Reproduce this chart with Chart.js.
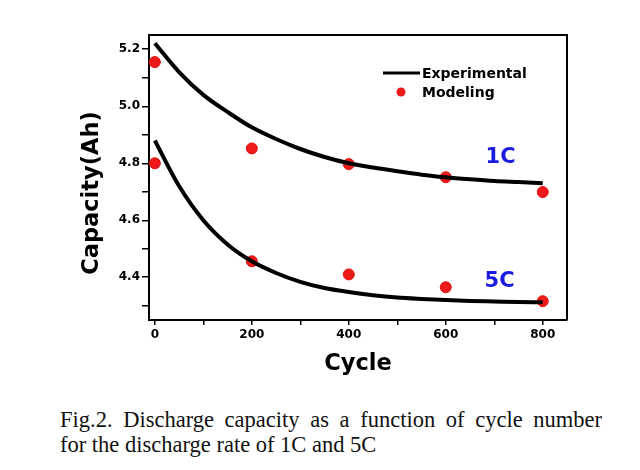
<!DOCTYPE html>
<html>
<head>
<meta charset="utf-8">
<script src="https://cdn.jsdelivr.net/npm/chart.js@4/dist/chart.umd.min.js"></script>
<style>
  body { margin: 0; background: #fff; width: 640px; height: 470px; overflow: hidden; position: relative; }
  #wrap { position: absolute; left: 0; top: 0; width: 640px; height: 395px; }
  .cap {
    position: absolute; left: 60px; width: 542px; white-space: nowrap;
    font-family: "Liberation Serif", "Times New Roman", serif; font-size: 22.5px; line-height: 25.5px;
    color: #111;
  }
  #cap1 { top: 407px; text-align: justify; text-align-last: justify; white-space: normal; }
  #cap2 { top: 432px; }
</style>
</head>
<body>
<div id="wrap"><canvas id="chart" width="640" height="395"></canvas></div>
<div class="cap" id="cap1">Fig.2. Discharge capacity as a function of cycle number</div>
<div class="cap" id="cap2">for the discharge rate of 1C and 5C</div>
<script>
const curveCycles = [0, 50, 100, 150, 200, 250, 300, 350, 400, 450, 500, 550, 600, 650, 700, 750, 800];
const exp1C = [5.221, 5.12, 5.04, 4.98, 4.926, 4.885, 4.85, 4.822, 4.80, 4.785, 4.772, 4.76, 4.751, 4.744, 4.738, 4.734, 4.73];
const exp5C = [4.88, 4.72, 4.60, 4.515, 4.456, 4.415, 4.384, 4.362, 4.348, 4.337, 4.329, 4.324, 4.32, 4.317, 4.315, 4.313, 4.312];

// モデル値 (赤い点)
const modelCycles = [0, 200, 400, 600, 800];
const model1C = [5.155, 4.852, 4.797, 4.751, 4.699];
const model5C = [4.80, 4.456, 4.41, 4.365, 4.316];

// 目盛り (ラベル付きと補助目盛り)
const xTickValues = [0, 100, 200, 300, 400, 500, 600, 700, 800];
const xTickLabels = ['0', '', '200', '', '400', '', '600', '', '800'];
const yTickValues = [4.3, 4.4, 4.5, 4.6, 4.7, 4.8, 4.9, 5.0, 5.1, 5.2];
const yTickLabels = ['', '4.4', '', '4.6', '', '4.8', '', '5.0', '', '5.2'];

// 系列ラベル
const rateLabels = ['1C', '5C'];
const rateLabelX = [713, 711];
const rateLabelY = [4.821, 4.385];

const heavyFont = '"DejaVu Sans", sans-serif';
const pts = (xs, ys) => xs.map((x, i) => ({ x: x, y: ys[i] }));

// 枠・軸タイトル・凡例・ラベル描画
const decorPlugin = {
    id: 'decor',
    afterDraw(chart) {
        const { ctx, chartArea: a, scales } = chart;
        ctx.save();
        ctx.strokeStyle = '#000';
        ctx.lineWidth = 2;
        ctx.beginPath();
        ctx.moveTo(a.left, a.top);
        ctx.lineTo(a.right, a.top);
        ctx.lineTo(a.right, a.bottom);
        ctx.stroke();

        // 軸タイトル
        ctx.fillStyle = '#000';
        ctx.font = 'bold 22.5px ' + heavyFont;
        ctx.textAlign = 'center';
        ctx.textBaseline = 'middle';
        ctx.fillText('Cycle', (a.left + a.right) / 2, 364);
        ctx.save();
        ctx.translate(92, 193);
        ctx.rotate(-Math.PI / 2);
        ctx.fillText('Capacity(Ah)', 0, 0);
        ctx.restore();

        // 凡例
        ctx.lineWidth = 3;
        ctx.beginPath();
        ctx.moveTo(383, 73);
        ctx.lineTo(420, 73);
        ctx.stroke();
        ctx.fillStyle = '#ee1a1a';
        ctx.beginPath();
        ctx.arc(401, 92, 4.5, 0, Math.PI * 2);
        ctx.fill();
        ctx.fillStyle = '#000';
        ctx.font = 'bold 14px ' + heavyFont;
        ctx.textAlign = 'left';
        ctx.fillText('Experimental', 422, 74);
        ctx.fillText('Modeling', 422, 93);

        // 1C / 5C
        ctx.fillStyle = '#1a1ae0';
        ctx.font = 'bold 21px ' + heavyFont;
        ctx.textAlign = 'center';
        rateLabels.forEach((t, i) => {
            ctx.fillText(t, scales.x.getPixelForValue(rateLabelX[i]), scales.y.getPixelForValue(rateLabelY[i]));
        });
        ctx.restore();
    }
};

const lineStyle = {
    showLine: true,
    borderColor: '#000',
    borderWidth: 4,
    pointRadius: 0,
    cubicInterpolationMode: 'monotone',
    fill: false
};
const dotStyle = {
    showLine: false,
    pointRadius: 5.5,
    pointBackgroundColor: '#ee1a1a',
    pointBorderColor: '#e01010',
    pointBorderWidth: 1
};

new Chart(document.getElementById('chart'), {
    type: 'scatter',
    data: {
        datasets: [
            { label: 'Experimental 1C', data: pts(curveCycles, exp1C), ...lineStyle },
            { label: 'Experimental 5C', data: pts(curveCycles, exp5C), ...lineStyle },
            { label: 'Modeling 1C', data: pts(modelCycles, model1C), ...dotStyle },
            { label: 'Modeling 5C', data: pts(modelCycles, model5C), ...dotStyle }
        ]
    },
    options: {
        responsive: false,
        animation: false,
        layout: { padding: { left: 0, right: 73, top: 35, bottom: 0 } },
        plugins: { legend: { display: false }, tooltip: { enabled: false } },
        scales: {
            x: {
                type: 'linear',
                min: -12,
                max: 850,
                afterFit: (s) => { s.height = 75; },
                afterBuildTicks: (s) => { s.ticks = xTickValues.map(v => ({ value: v })); },
                border: { color: '#000', width: 2 },
                grid: { drawOnChartArea: false, color: '#000', tickLength: 5, lineWidth: 1.5 },
                ticks: {
                    padding: 3,
                    color: '#000',
                    autoSkip: false,
                    maxRotation: 0,
                    font: { family: heavyFont, size: 12, weight: 'bold' },
                    callback: (v, i) => xTickLabels[i]
                }
            },
            y: {
                type: 'linear',
                min: 4.25,
                max: 5.25,
                afterFit: (s) => { s.width = 149; },
                afterBuildTicks: (s) => { s.ticks = yTickValues.map(v => ({ value: v })); },
                border: { color: '#000', width: 2 },
                grid: { drawOnChartArea: false, color: '#000', tickLength: 7, lineWidth: 1.5 },
                ticks: {
                    padding: 2,
                    color: '#000',
                    autoSkip: false,
                    font: { family: heavyFont, size: 12, weight: 'bold' },
                    callback: (v, i) => yTickLabels[i]
                }
            }
        }
    },
    plugins: [decorPlugin]
});
</script>
</body>
</html>
